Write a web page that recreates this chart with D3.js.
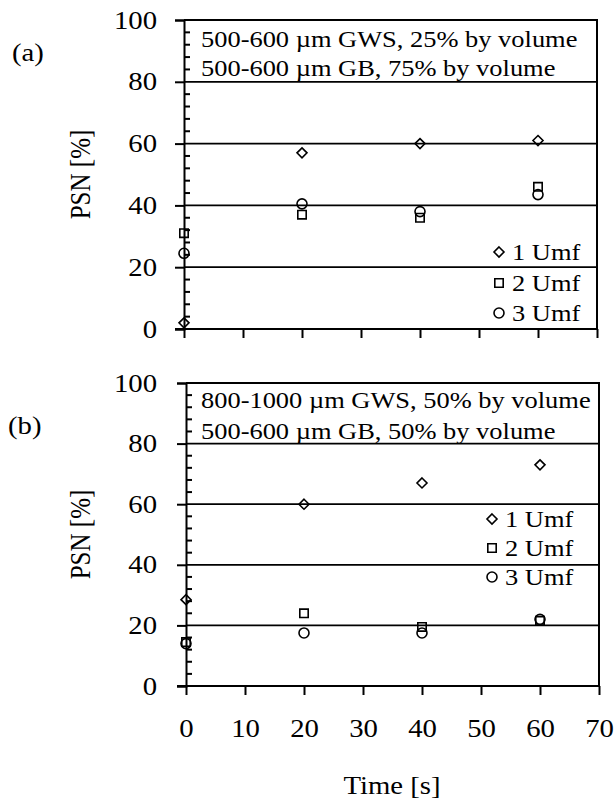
<!DOCTYPE html>
<html>
<head>
<meta charset="utf-8">
<script src="https://cdn.jsdelivr.net/npm/d3@7"></script>
<style>
body { margin: 0; background: #fff; }
svg text { font-family: "Liberation Serif", "Times New Roman", serif; fill: #000; }
</style>
</head>
<body>
<svg id="chart" width="615" height="800"></svg>
<script>
// values
const times = [0, 20, 40, 60];
const seriesNames = ["1 Umf", "2 Umf", "3 Umf"];

const psnA1 = [2, 57, 60, 61];
const psnA2 = [31, 37, 36, 46];
const psnA3 = [24.5, 40.5, 38, 43.5];

const psnB1 = [28.5, 60, 67, 73];
const psnB2 = [14.5, 24, 19.5, 21.5];
const psnB3 = [14, 17.5, 17.5, 22];

const xTicks = [0, 10, 20, 30, 40, 50, 60, 70];
const yTicks = [0, 20, 40, 60, 80, 100];
const yMinor = [4, 8, 12, 16, 24, 28, 32, 36, 44, 48, 52, 56, 64, 68, 72, 76, 84, 88, 92, 96];

const notesA = ["500-600 \u00b5m GWS, 25% by volume", "500-600 \u00b5m GB, 75% by volume"];
const notesB = ["800-1000 \u00b5m GWS, 50% by volume", "500-600 \u00b5m GB, 50% by volume"];

const SX = 1.15; // the original figure is a little stretched sideways

// marker shapes
const diamond = { draw(ctx, size) { const r = size; ctx.moveTo(0, -r); ctx.lineTo(r, 0); ctx.lineTo(0, r); ctx.lineTo(-r, 0); ctx.closePath(); } };
const square = { draw(ctx, size) { const r = size; ctx.rect(-r, -r, 2 * r, 2 * r); } };
const circle = { draw(ctx, size) { ctx.moveTo(size, 0); ctx.arc(0, 0, size, 0, 2 * Math.PI); } };
const shapes = [
    d3.symbol().type(diamond).size(5),
    d3.symbol().type(square).size(4.2),
    d3.symbol().type(circle).size(5)
];

function stretchedText(g, x, y, s, size, anchor = "start") {
    return g.append("text")
        .attr("transform", `translate(${x},${y}) scale(${SX},1)`)
        .attr("dy", "0.35em")
        .attr("text-anchor", anchor)
        .style("font-size", size + "px")
        .text(s);
}

class PsnPanel {
    constructor(svg, cfg) {
        this.svg = svg;
        this.cfg = cfg;
    }

    draw() {
        const c = this.cfg;
        const g = this.svg.append("g").attr("transform", `translate(${c.left},${c.top})`);

        const x = d3.scaleLinear().domain([0, 70]).range([0, c.width]);
        const y = d3.scaleLinear().domain([0, 100]).range([c.height, 0]);

        // gridlines
        g.append("g").selectAll("line")
            .data(yTicks.filter(d => d > 0 && d < 100))
            .join("line")
            .attr("x1", 0).attr("x2", c.width)
            .attr("y1", d => y(d)).attr("y2", d => y(d))
            .attr("stroke", "#000").attr("stroke-width", 1.8);

        // plot frame top + right
        g.append("path")
            .attr("d", `M0,${y(100)}H${x(70)}V${y(0)}`)
            .attr("fill", "none").attr("stroke", "#000").attr("stroke-width", 2);

        // minor ticks on the inside of the y axis
        g.append("g").selectAll("line")
            .data(yMinor)
            .join("line")
            .attr("x1", 0).attr("x2", 6)
            .attr("y1", d => y(d)).attr("y2", d => y(d))
            .attr("stroke", "#000").attr("stroke-width", 2);

        const yAxis = g.append("g")
            .call(d3.axisLeft(y).tickValues(yTicks).tickSize(9).tickPadding(0).tickFormat(d3.format("d")));
        yAxis.select(".domain").attr("stroke-width", 2);
        yAxis.selectAll(".tick line").attr("stroke-width", 2);
        yAxis.selectAll(".tick text")
            .attr("x", null)
            .attr("transform", `translate(${c.tickRight - c.left},0) scale(${SX},1)`)
            .style("font-size", "25px")
            .style("font-family", '"Liberation Serif", serif');

        const xAxis = g.append("g")
            .attr("transform", `translate(0,${c.height})`)
            .call(d3.axisBottom(x).tickValues(xTicks).tickSizeInner(9).tickSizeOuter(0).tickPadding(0).tickFormat(c.xLabels ? d3.format("d") : ""));
        xAxis.select(".domain").attr("stroke-width", 2).attr("d", `M-9,0H${c.width}`);
        xAxis.selectAll(".tick line").attr("stroke-width", 2);
        xAxis.selectAll(".tick text")
            .attr("y", null).attr("dy", null)
            .attr("transform", `translate(0,${c.xLabelY - c.top - c.height}) scale(${SX},1)`)
            .attr("dominant-baseline", "middle")
            .style("font-size", "25px")
            .style("font-family", '"Liberation Serif", serif');

        // data markers
        c.series.forEach((vals, i) => {
            g.append("g").selectAll("path")
                .data(times.map((t, j) => [t, vals[j]]))
                .join("path")
                .attr("transform", d => `translate(${x(d[0])},${y(d[1])})`)
                .attr("d", shapes[i])
                .attr("fill", "none").attr("stroke", "#000").attr("stroke-width", 1.6);
        });

        // notes in the top band
        c.notes.forEach((s, i) => stretchedText(this.svg, c.notesX, c.notesY[i], s, 23));

        // legend
        seriesNames.forEach((s, i) => {
            this.svg.append("path")
                .attr("transform", `translate(${c.legendX},${c.legendY[i]})`)
                .attr("d", shapes[i])
                .attr("fill", "none").attr("stroke", "#000").attr("stroke-width", 1.6);
            stretchedText(this.svg, c.legendX + 13, c.legendY[i], s, 23);
        });

        // panel letter and y title
        stretchedText(this.svg, c.letterX, c.letterY, c.letter, 25);
        this.svg.append("text")
            .attr("transform", `translate(${c.titleX},${c.top + c.height / 2}) scale(${SX},1) rotate(-90)`)
            .attr("dy", "0.35em")
            .attr("text-anchor", "middle")
            .style("font-size", "25px")
            .text("PSN [%]");

        this.x = x;
    }
}

const svg = d3.select("#chart");

const panelA = new PsnPanel(svg, {
    left: 184, top: 20, width: 413, height: 309,
    series: [psnA1, psnA2, psnA3],
    tickRight: 157, xLabels: false,
    notes: notesA, notesX: 201, notesY: [39, 68],
    legendX: 499, legendY: [252, 283, 313],
    letter: "(a)", letterX: 12, letterY: 52, titleX: 80
});
panelA.draw();

const panelB = new PsnPanel(svg, {
    left: 186, top: 383, width: 413, height: 303,
    series: [psnB1, psnB2, psnB3],
    tickRight: 157, xLabels: true, xLabelY: 731,
    notes: notesB, notesX: 201, notesY: [400, 431],
    legendX: 492, legendY: [519, 548, 577],
    letter: "(b)", letterX: 8, letterY: 425, titleX: 80
});
panelB.draw();

stretchedText(svg, 392, 785, "Time [s]", 25, "middle");
</script>
</body>
</html>
